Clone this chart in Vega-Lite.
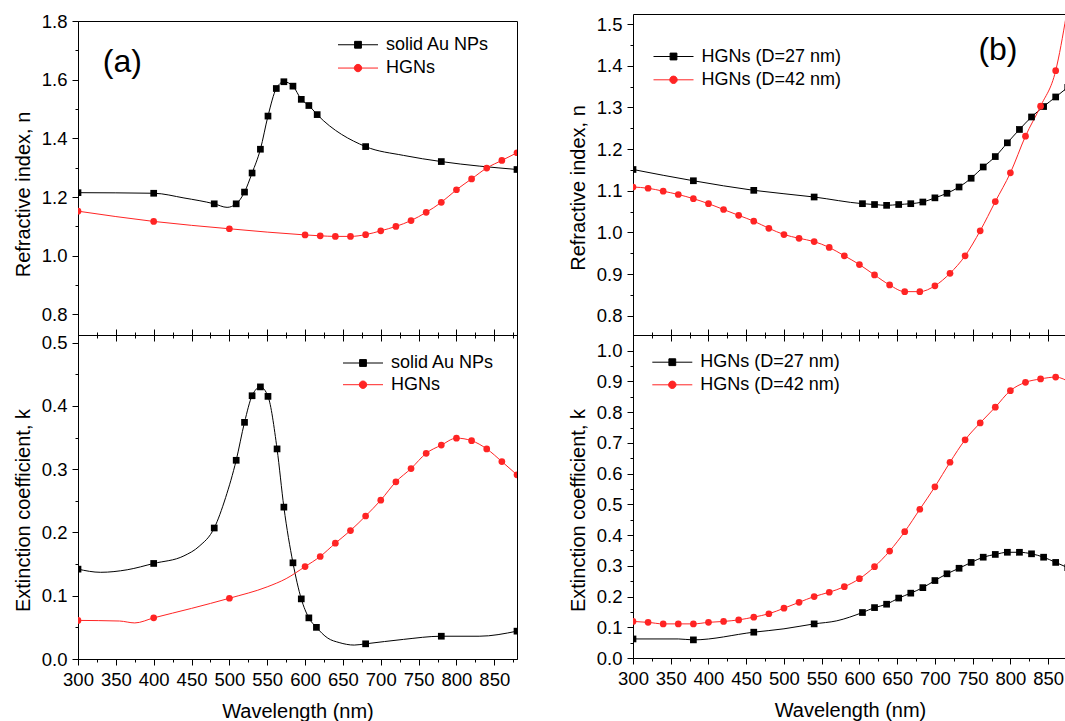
{
  "$schema": "https://vega.github.io/schema/vega-lite/v6.json",
  "padding": {"left": 12, "top": 0, "right": 0, "bottom": 0},
  "background": "white",
  "config": {
    "font": "Liberation Sans",
    "view": {"stroke": "#000", "strokeWidth": 1},
    "axis": {
      "labelFont": "Liberation Sans", "labelFontSize": 18.5, "labelColor": "#000",
      "titleFont": "Liberation Sans", "titleFontSize": 20, "titleFontWeight": "normal", "titleColor": "#000",
      "domainColor": "#000", "tickColor": "#000", "domainWidth": 1, "tickWidth": 1,
      "grid": false, "labelPadding": 5, "labelFlush": false, "labelOverlap": false, "labelBound": false
    },
    "legend": {
      "labelFont": "Liberation Sans", "labelFontSize": 18, "labelColor": "#000",
      "symbolSize": 100, "labelOffset": 19, "symbolStrokeWidth": 1, "orient": "none", "padding": 0
    }
  },
  "datasets": {
    "an": [
      {"wl": 300, "v": 1.215, "s": "solid Au NPs", "m": 1},
      {"wl": 400, "v": 1.213, "s": "solid Au NPs", "m": 1},
      {"wl": 440, "v": 1.197, "s": "solid Au NPs", "m": 0},
      {"wl": 480, "v": 1.177, "s": "solid Au NPs", "m": 1},
      {"wl": 497, "v": 1.165, "s": "solid Au NPs", "m": 0},
      {"wl": 509, "v": 1.177, "s": "solid Au NPs", "m": 1},
      {"wl": 520, "v": 1.217, "s": "solid Au NPs", "m": 1},
      {"wl": 530, "v": 1.282, "s": "solid Au NPs", "m": 1},
      {"wl": 541, "v": 1.363, "s": "solid Au NPs", "m": 1},
      {"wl": 551, "v": 1.476, "s": "solid Au NPs", "m": 1},
      {"wl": 562, "v": 1.570, "s": "solid Au NPs", "m": 1},
      {"wl": 572, "v": 1.593, "s": "solid Au NPs", "m": 1},
      {"wl": 584, "v": 1.578, "s": "solid Au NPs", "m": 1},
      {"wl": 595, "v": 1.533, "s": "solid Au NPs", "m": 1},
      {"wl": 605, "v": 1.512, "s": "solid Au NPs", "m": 1},
      {"wl": 616, "v": 1.481, "s": "solid Au NPs", "m": 1},
      {"wl": 680, "v": 1.372, "s": "solid Au NPs", "m": 1},
      {"wl": 730, "v": 1.342, "s": "solid Au NPs", "m": 0},
      {"wl": 780, "v": 1.321, "s": "solid Au NPs", "m": 1},
      {"wl": 880, "v": 1.294, "s": "solid Au NPs", "m": 1},
      {"wl": 300, "v": 1.152, "s": "HGNs", "m": 1},
      {"wl": 400, "v": 1.117, "s": "HGNs", "m": 1},
      {"wl": 500, "v": 1.092, "s": "HGNs", "m": 1},
      {"wl": 600, "v": 1.071, "s": "HGNs", "m": 1},
      {"wl": 620, "v": 1.068, "s": "HGNs", "m": 1},
      {"wl": 640, "v": 1.066, "s": "HGNs", "m": 1},
      {"wl": 660, "v": 1.066, "s": "HGNs", "m": 1},
      {"wl": 680, "v": 1.072, "s": "HGNs", "m": 1},
      {"wl": 700, "v": 1.085, "s": "HGNs", "m": 1},
      {"wl": 720, "v": 1.100, "s": "HGNs", "m": 1},
      {"wl": 740, "v": 1.120, "s": "HGNs", "m": 1},
      {"wl": 760, "v": 1.148, "s": "HGNs", "m": 1},
      {"wl": 780, "v": 1.182, "s": "HGNs", "m": 1},
      {"wl": 800, "v": 1.225, "s": "HGNs", "m": 1},
      {"wl": 820, "v": 1.262, "s": "HGNs", "m": 1},
      {"wl": 840, "v": 1.299, "s": "HGNs", "m": 1},
      {"wl": 860, "v": 1.325, "s": "HGNs", "m": 1},
      {"wl": 880, "v": 1.351, "s": "HGNs", "m": 1}
    ],
    "ak": [
      {"wl": 300, "v": 0.142, "s": "solid Au NPs", "m": 1},
      {"wl": 330, "v": 0.137, "s": "solid Au NPs", "m": 0},
      {"wl": 365, "v": 0.141, "s": "solid Au NPs", "m": 0},
      {"wl": 400, "v": 0.151, "s": "solid Au NPs", "m": 1},
      {"wl": 440, "v": 0.163, "s": "solid Au NPs", "m": 0},
      {"wl": 460, "v": 0.178, "s": "solid Au NPs", "m": 0},
      {"wl": 480, "v": 0.207, "s": "solid Au NPs", "m": 1},
      {"wl": 495, "v": 0.255, "s": "solid Au NPs", "m": 0},
      {"wl": 509, "v": 0.314, "s": "solid Au NPs", "m": 1},
      {"wl": 520, "v": 0.374, "s": "solid Au NPs", "m": 1},
      {"wl": 530, "v": 0.416, "s": "solid Au NPs", "m": 1},
      {"wl": 541, "v": 0.430, "s": "solid Au NPs", "m": 1},
      {"wl": 551, "v": 0.415, "s": "solid Au NPs", "m": 1},
      {"wl": 563, "v": 0.332, "s": "solid Au NPs", "m": 1},
      {"wl": 572, "v": 0.240, "s": "solid Au NPs", "m": 1},
      {"wl": 584, "v": 0.152, "s": "solid Au NPs", "m": 1},
      {"wl": 595, "v": 0.095, "s": "solid Au NPs", "m": 1},
      {"wl": 605, "v": 0.065, "s": "solid Au NPs", "m": 1},
      {"wl": 615, "v": 0.050, "s": "solid Au NPs", "m": 1},
      {"wl": 630, "v": 0.033, "s": "solid Au NPs", "m": 0},
      {"wl": 645, "v": 0.026, "s": "solid Au NPs", "m": 0},
      {"wl": 665, "v": 0.022, "s": "solid Au NPs", "m": 0},
      {"wl": 680, "v": 0.024, "s": "solid Au NPs", "m": 1},
      {"wl": 730, "v": 0.031, "s": "solid Au NPs", "m": 0},
      {"wl": 780, "v": 0.036, "s": "solid Au NPs", "m": 1},
      {"wl": 830, "v": 0.036, "s": "solid Au NPs", "m": 0},
      {"wl": 880, "v": 0.044, "s": "solid Au NPs", "m": 1},
      {"wl": 300, "v": 0.061, "s": "HGNs", "m": 1},
      {"wl": 355, "v": 0.060, "s": "HGNs", "m": 0},
      {"wl": 375, "v": 0.057, "s": "HGNs", "m": 0},
      {"wl": 400, "v": 0.065, "s": "HGNs", "m": 1},
      {"wl": 450, "v": 0.080, "s": "HGNs", "m": 0},
      {"wl": 500, "v": 0.096, "s": "HGNs", "m": 1},
      {"wl": 550, "v": 0.114, "s": "HGNs", "m": 0},
      {"wl": 575, "v": 0.127, "s": "HGNs", "m": 0},
      {"wl": 600, "v": 0.146, "s": "HGNs", "m": 1},
      {"wl": 620, "v": 0.162, "s": "HGNs", "m": 1},
      {"wl": 640, "v": 0.183, "s": "HGNs", "m": 1},
      {"wl": 660, "v": 0.203, "s": "HGNs", "m": 1},
      {"wl": 680, "v": 0.226, "s": "HGNs", "m": 1},
      {"wl": 700, "v": 0.251, "s": "HGNs", "m": 1},
      {"wl": 720, "v": 0.280, "s": "HGNs", "m": 1},
      {"wl": 740, "v": 0.301, "s": "HGNs", "m": 1},
      {"wl": 760, "v": 0.325, "s": "HGNs", "m": 1},
      {"wl": 780, "v": 0.338, "s": "HGNs", "m": 1},
      {"wl": 800, "v": 0.349, "s": "HGNs", "m": 1},
      {"wl": 820, "v": 0.345, "s": "HGNs", "m": 1},
      {"wl": 840, "v": 0.332, "s": "HGNs", "m": 1},
      {"wl": 860, "v": 0.312, "s": "HGNs", "m": 1},
      {"wl": 880, "v": 0.291, "s": "HGNs", "m": 1}
    ],
    "bn": [
      {"wl": 300, "v": 1.151, "s": "HGNs (D=27 nm)", "m": 1},
      {"wl": 380, "v": 1.124, "s": "HGNs (D=27 nm)", "m": 1},
      {"wl": 460, "v": 1.101, "s": "HGNs (D=27 nm)", "m": 1},
      {"wl": 540, "v": 1.085, "s": "HGNs (D=27 nm)", "m": 1},
      {"wl": 604, "v": 1.069, "s": "HGNs (D=27 nm)", "m": 1},
      {"wl": 620, "v": 1.067, "s": "HGNs (D=27 nm)", "m": 1},
      {"wl": 636, "v": 1.065, "s": "HGNs (D=27 nm)", "m": 1},
      {"wl": 652, "v": 1.067, "s": "HGNs (D=27 nm)", "m": 1},
      {"wl": 668, "v": 1.069, "s": "HGNs (D=27 nm)", "m": 1},
      {"wl": 684, "v": 1.073, "s": "HGNs (D=27 nm)", "m": 1},
      {"wl": 700, "v": 1.083, "s": "HGNs (D=27 nm)", "m": 1},
      {"wl": 716, "v": 1.094, "s": "HGNs (D=27 nm)", "m": 1},
      {"wl": 732, "v": 1.109, "s": "HGNs (D=27 nm)", "m": 1},
      {"wl": 748, "v": 1.130, "s": "HGNs (D=27 nm)", "m": 1},
      {"wl": 764, "v": 1.157, "s": "HGNs (D=27 nm)", "m": 1},
      {"wl": 780, "v": 1.182, "s": "HGNs (D=27 nm)", "m": 1},
      {"wl": 796, "v": 1.215, "s": "HGNs (D=27 nm)", "m": 1},
      {"wl": 812, "v": 1.247, "s": "HGNs (D=27 nm)", "m": 1},
      {"wl": 828, "v": 1.277, "s": "HGNs (D=27 nm)", "m": 1},
      {"wl": 844, "v": 1.302, "s": "HGNs (D=27 nm)", "m": 1},
      {"wl": 860, "v": 1.325, "s": "HGNs (D=27 nm)", "m": 1},
      {"wl": 876, "v": 1.348, "s": "HGNs (D=27 nm)", "m": 1},
      {"wl": 300, "v": 1.109, "s": "HGNs (D=42 nm)", "m": 1},
      {"wl": 320, "v": 1.106, "s": "HGNs (D=42 nm)", "m": 1},
      {"wl": 340, "v": 1.099, "s": "HGNs (D=42 nm)", "m": 1},
      {"wl": 360, "v": 1.091, "s": "HGNs (D=42 nm)", "m": 1},
      {"wl": 380, "v": 1.081, "s": "HGNs (D=42 nm)", "m": 1},
      {"wl": 400, "v": 1.069, "s": "HGNs (D=42 nm)", "m": 1},
      {"wl": 420, "v": 1.055, "s": "HGNs (D=42 nm)", "m": 1},
      {"wl": 440, "v": 1.041, "s": "HGNs (D=42 nm)", "m": 1},
      {"wl": 460, "v": 1.027, "s": "HGNs (D=42 nm)", "m": 1},
      {"wl": 480, "v": 1.010, "s": "HGNs (D=42 nm)", "m": 1},
      {"wl": 500, "v": 0.995, "s": "HGNs (D=42 nm)", "m": 1},
      {"wl": 520, "v": 0.986, "s": "HGNs (D=42 nm)", "m": 1},
      {"wl": 540, "v": 0.978, "s": "HGNs (D=42 nm)", "m": 1},
      {"wl": 560, "v": 0.964, "s": "HGNs (D=42 nm)", "m": 1},
      {"wl": 580, "v": 0.944, "s": "HGNs (D=42 nm)", "m": 1},
      {"wl": 600, "v": 0.923, "s": "HGNs (D=42 nm)", "m": 1},
      {"wl": 620, "v": 0.898, "s": "HGNs (D=42 nm)", "m": 1},
      {"wl": 640, "v": 0.874, "s": "HGNs (D=42 nm)", "m": 1},
      {"wl": 660, "v": 0.858, "s": "HGNs (D=42 nm)", "m": 1},
      {"wl": 680, "v": 0.858, "s": "HGNs (D=42 nm)", "m": 1},
      {"wl": 700, "v": 0.872, "s": "HGNs (D=42 nm)", "m": 1},
      {"wl": 720, "v": 0.902, "s": "HGNs (D=42 nm)", "m": 1},
      {"wl": 740, "v": 0.944, "s": "HGNs (D=42 nm)", "m": 1},
      {"wl": 760, "v": 1.004, "s": "HGNs (D=42 nm)", "m": 1},
      {"wl": 780, "v": 1.074, "s": "HGNs (D=42 nm)", "m": 1},
      {"wl": 800, "v": 1.143, "s": "HGNs (D=42 nm)", "m": 1},
      {"wl": 820, "v": 1.231, "s": "HGNs (D=42 nm)", "m": 1},
      {"wl": 840, "v": 1.303, "s": "HGNs (D=42 nm)", "m": 1},
      {"wl": 860, "v": 1.388, "s": "HGNs (D=42 nm)", "m": 1},
      {"wl": 874, "v": 1.520, "s": "HGNs (D=42 nm)", "m": 0}
    ],
    "bk": [
      {"wl": 300, "v": 0.062, "s": "HGNs (D=27 nm)", "m": 1},
      {"wl": 360, "v": 0.062, "s": "HGNs (D=27 nm)", "m": 0},
      {"wl": 380, "v": 0.059, "s": "HGNs (D=27 nm)", "m": 1},
      {"wl": 460, "v": 0.084, "s": "HGNs (D=27 nm)", "m": 1},
      {"wl": 500, "v": 0.095, "s": "HGNs (D=27 nm)", "m": 0},
      {"wl": 540, "v": 0.111, "s": "HGNs (D=27 nm)", "m": 1},
      {"wl": 570, "v": 0.121, "s": "HGNs (D=27 nm)", "m": 0},
      {"wl": 604, "v": 0.148, "s": "HGNs (D=27 nm)", "m": 1},
      {"wl": 620, "v": 0.164, "s": "HGNs (D=27 nm)", "m": 1},
      {"wl": 636, "v": 0.175, "s": "HGNs (D=27 nm)", "m": 1},
      {"wl": 652, "v": 0.195, "s": "HGNs (D=27 nm)", "m": 1},
      {"wl": 668, "v": 0.211, "s": "HGNs (D=27 nm)", "m": 1},
      {"wl": 684, "v": 0.229, "s": "HGNs (D=27 nm)", "m": 1},
      {"wl": 700, "v": 0.252, "s": "HGNs (D=27 nm)", "m": 1},
      {"wl": 716, "v": 0.274, "s": "HGNs (D=27 nm)", "m": 1},
      {"wl": 732, "v": 0.292, "s": "HGNs (D=27 nm)", "m": 1},
      {"wl": 748, "v": 0.311, "s": "HGNs (D=27 nm)", "m": 1},
      {"wl": 764, "v": 0.328, "s": "HGNs (D=27 nm)", "m": 1},
      {"wl": 780, "v": 0.337, "s": "HGNs (D=27 nm)", "m": 1},
      {"wl": 796, "v": 0.344, "s": "HGNs (D=27 nm)", "m": 1},
      {"wl": 812, "v": 0.344, "s": "HGNs (D=27 nm)", "m": 1},
      {"wl": 828, "v": 0.339, "s": "HGNs (D=27 nm)", "m": 1},
      {"wl": 844, "v": 0.328, "s": "HGNs (D=27 nm)", "m": 1},
      {"wl": 860, "v": 0.311, "s": "HGNs (D=27 nm)", "m": 1},
      {"wl": 876, "v": 0.294, "s": "HGNs (D=27 nm)", "m": 1},
      {"wl": 300, "v": 0.119, "s": "HGNs (D=42 nm)", "m": 1},
      {"wl": 320, "v": 0.116, "s": "HGNs (D=42 nm)", "m": 1},
      {"wl": 340, "v": 0.111, "s": "HGNs (D=42 nm)", "m": 1},
      {"wl": 360, "v": 0.111, "s": "HGNs (D=42 nm)", "m": 1},
      {"wl": 380, "v": 0.111, "s": "HGNs (D=42 nm)", "m": 1},
      {"wl": 400, "v": 0.116, "s": "HGNs (D=42 nm)", "m": 1},
      {"wl": 420, "v": 0.119, "s": "HGNs (D=42 nm)", "m": 1},
      {"wl": 440, "v": 0.124, "s": "HGNs (D=42 nm)", "m": 1},
      {"wl": 460, "v": 0.133, "s": "HGNs (D=42 nm)", "m": 1},
      {"wl": 480, "v": 0.144, "s": "HGNs (D=42 nm)", "m": 1},
      {"wl": 500, "v": 0.162, "s": "HGNs (D=42 nm)", "m": 1},
      {"wl": 520, "v": 0.181, "s": "HGNs (D=42 nm)", "m": 1},
      {"wl": 540, "v": 0.200, "s": "HGNs (D=42 nm)", "m": 1},
      {"wl": 560, "v": 0.214, "s": "HGNs (D=42 nm)", "m": 1},
      {"wl": 580, "v": 0.232, "s": "HGNs (D=42 nm)", "m": 1},
      {"wl": 600, "v": 0.258, "s": "HGNs (D=42 nm)", "m": 1},
      {"wl": 620, "v": 0.297, "s": "HGNs (D=42 nm)", "m": 1},
      {"wl": 640, "v": 0.348, "s": "HGNs (D=42 nm)", "m": 1},
      {"wl": 660, "v": 0.411, "s": "HGNs (D=42 nm)", "m": 1},
      {"wl": 680, "v": 0.484, "s": "HGNs (D=42 nm)", "m": 1},
      {"wl": 700, "v": 0.557, "s": "HGNs (D=42 nm)", "m": 1},
      {"wl": 720, "v": 0.637, "s": "HGNs (D=42 nm)", "m": 1},
      {"wl": 740, "v": 0.710, "s": "HGNs (D=42 nm)", "m": 1},
      {"wl": 760, "v": 0.765, "s": "HGNs (D=42 nm)", "m": 1},
      {"wl": 780, "v": 0.816, "s": "HGNs (D=42 nm)", "m": 1},
      {"wl": 800, "v": 0.870, "s": "HGNs (D=42 nm)", "m": 1},
      {"wl": 820, "v": 0.897, "s": "HGNs (D=42 nm)", "m": 1},
      {"wl": 840, "v": 0.908, "s": "HGNs (D=42 nm)", "m": 1},
      {"wl": 860, "v": 0.914, "s": "HGNs (D=42 nm)", "m": 1},
      {"wl": 880, "v": 0.895, "s": "HGNs (D=42 nm)", "m": 1}
    ]
  },
  "spacing": 50,
  "resolve": {"scale": {"x": "independent", "y": "independent", "color": "independent", "shape": "independent", "fill": "independent", "stroke": "independent"}},
  "hconcat": [
    {
      "spacing": 0,
      "bounds": "flush",
      "resolve": {"scale": {"x": "independent", "y": "independent", "color": "independent", "shape": "independent", "fill": "independent", "stroke": "independent"}},
      "vconcat": [
        {
          "width": 439, "height": 21,
          "view": {"stroke": null, "fill": "#ffffff"},
          "data": {"values": [{}]},
          "mark": {"type": "point", "opacity": 0, "size": 1}
        },
        {
          "width": 439, "height": 314,
          "data": {"name": "an"},
          "resolve": {"axis": {"x": "independent", "y": "independent"}, "scale": {"shape": "independent"}, "legend": {"fill": "independent", "stroke": "independent", "shape": "independent"}},
          "layer": [
            {
              "mark": {"type": "line", "interpolate": "monotone", "strokeWidth": 1, "clip": true},
              "encoding": {
                "x": {"field": "wl", "type": "quantitative", "scale": {"domain": [300, 880], "nice": false, "zero": false},
                  "axis": {"orient": "bottom", "labels": false, "title": null,
                    "values": [300, 325, 350, 375, 400, 425, 450, 475, 500, 525, 550, 575, 600, 625, 650, 675, 700, 725, 750, 775, 800, 825, 850, 875],
                    "tickSize": {"condition": {"test": "datum.value % 50 === 0", "value": -6}, "value": -3}}},
                "y": {"field": "v", "type": "quantitative", "scale": {"domain": [0.73, 1.8], "nice": false, "zero": false},
                  "axis": {"orient": "left", "title": "Refractive index, n", "titleX": -49, "titleY": 173, "titleBaseline": "alphabetic", "titleAlign": "center", "titleAngle": 270,
                    "values": [0.8, 0.9, 1, 1.1, 1.2, 1.3, 1.4, 1.5, 1.6, 1.7, 1.8],
                    "labelExpr": "indexof([0.8, 1, 1.2, 1.4, 1.6, 1.8], datum.value) >= 0 ? format(datum.value, '.1f') : ''",
                    "tickSize": {"condition": {"test": "indexof([0.8, 1, 1.2, 1.4, 1.6, 1.8], datum.value) >= 0", "value": 6}, "value": 3}}},
                "color": {"field": "s", "type": "nominal", "scale": {"domain": ["solid Au NPs", "HGNs"], "range": ["#000000", "#ff2424"]}, "legend": null}
              }
            },
            {
              "transform": [{"filter": "datum.m === 1"}],
              "mark": {"type": "point", "filled": true, "opacity": 1, "size": 45, "clip": true},
              "encoding": {
                "x": {"field": "wl", "type": "quantitative", "axis": null},
                "y": {"field": "v", "type": "quantitative", "axis": null},
                "shape": {"field": "s", "type": "nominal", "scale": {"domain": ["solid Au NPs", "HGNs"], "range": ["square", "circle"]}, "legend": null},
                "color": {"field": "s", "type": "nominal", "scale": {"domain": ["solid Au NPs", "HGNs"], "range": ["#000000", "#ff2424"]}, "legend": null}
              }
            },
            {
              "transform": [{"filter": "false"}],
              "mark": {"type": "point", "filled": true, "opacity": 1, "strokeWidth": 1},
              "encoding": {
                "x": {"field": "wl", "type": "quantitative", "axis": null},
                "y": {"field": "v", "type": "quantitative", "axis": null},
                "fill": {"field": "s", "type": "nominal", "scale": {"domain": ["solid Au NPs", "HGNs"], "range": ["#000000", "#ff2424"]},
                  "legend": {"title": null, "orient": "none", "legendX": 271, "legendY": 14.75, "rowPadding": 5.3}},
                "stroke": {"field": "s", "type": "nominal", "scale": {"domain": ["solid Au NPs", "HGNs"], "range": ["#000000", "#ff2424"]},
                  "legend": {"title": null, "orient": "none", "legendX": 271, "legendY": 14.75, "rowPadding": 5.3}},
                "shape": {"field": "s", "type": "nominal", "scale": {"domain": ["solid Au NPs", "HGNs"], "range": ["M-4,0H4M-0.68,-0.68H0.68V0.68H-0.68Z", "M-4,0H4M0.74,0A0.74,0.74,0,1,1,-0.74,0A0.74,0.74,0,1,1,0.74,0Z"]},
                  "legend": {"title": null, "orient": "none", "legendX": 271, "legendY": 14.75, "rowPadding": 5.3}}
              }
            },
            {
              "data": {"values": [{}]},
              "mark": {"type": "text", "fontSize": 32, "font": "Liberation Sans", "align": "center", "baseline": "alphabetic", "color": "#000"},
              "encoding": {
                "x": {"datum": 358.5, "type": "quantitative", "axis": null},
                "y": {"datum": 1.626, "type": "quantitative", "axis": null},
                "text": {"value": "(a)"}
              }
            }
          ]
        },
        {
          "width": 439, "height": 324,
          "data": {"name": "ak"},
          "resolve": {"axis": {"x": "independent", "y": "independent"}, "scale": {"shape": "independent"}, "legend": {"fill": "independent", "stroke": "independent", "shape": "independent"}},
          "layer": [
            {
              "mark": {"type": "line", "interpolate": "monotone", "strokeWidth": 1, "clip": true},
              "encoding": {
                "x": {"field": "wl", "type": "quantitative", "scale": {"domain": [300, 880], "nice": false, "zero": false},
                  "axis": {"orient": "bottom", "title": "Wavelength (nm)", "titleY": 58, "titleBaseline": "alphabetic",
                    "values": [300, 325, 350, 375, 400, 425, 450, 475, 500, 525, 550, 575, 600, 625, 650, 675, 700, 725, 750, 775, 800, 825, 850, 875],
                    "labelExpr": "datum.value % 50 === 0 ? format(datum.value, 'd') : ''",
                    "tickSize": {"condition": {"test": "datum.value % 50 === 0", "value": 6}, "value": 3}}},
                "y": {"field": "v", "type": "quantitative", "scale": {"domain": [0, 0.512], "nice": false, "zero": false},
                  "axis": {"orient": "left", "title": "Extinction coefficient, k", "titleX": -49, "titleY": 175, "titleBaseline": "alphabetic", "titleAlign": "center", "titleAngle": 270,
                    "values": [0, 0.05, 0.1, 0.15, 0.2, 0.25, 0.3, 0.35, 0.4, 0.45, 0.5],
                    "labelExpr": "indexof([0, 0.1, 0.2, 0.3, 0.4, 0.5], datum.value) >= 0 ? format(datum.value, '.1f') : ''",
                    "tickSize": {"condition": {"test": "indexof([0, 0.1, 0.2, 0.3, 0.4, 0.5], datum.value) >= 0", "value": 6}, "value": 3}}},
                "color": {"field": "s", "type": "nominal", "scale": {"domain": ["solid Au NPs", "HGNs"], "range": ["#000000", "#ff2424"]}, "legend": null}
              }
            },
            {
              "transform": [{"filter": "datum.m === 1"}],
              "mark": {"type": "point", "filled": true, "opacity": 1, "size": 45, "clip": true},
              "encoding": {
                "x": {"field": "wl", "type": "quantitative",
                  "axis": {"orient": "top", "labels": false, "title": null,
                    "values": [300, 325, 350, 375, 400, 425, 450, 475, 500, 525, 550, 575, 600, 625, 650, 675, 700, 725, 750, 775, 800, 825, 850, 875],
                    "tickSize": {"condition": {"test": "datum.value % 50 === 0", "value": -6}, "value": -3}}},
                "y": {"field": "v", "type": "quantitative", "axis": null},
                "shape": {"field": "s", "type": "nominal", "scale": {"domain": ["solid Au NPs", "HGNs"], "range": ["square", "circle"]}, "legend": null},
                "color": {"field": "s", "type": "nominal", "scale": {"domain": ["solid Au NPs", "HGNs"], "range": ["#000000", "#ff2424"]}, "legend": null}
              }
            },
            {
              "transform": [{"filter": "false"}],
              "mark": {"type": "point", "filled": true, "opacity": 1, "strokeWidth": 1},
              "encoding": {
                "x": {"field": "wl", "type": "quantitative", "axis": null},
                "y": {"field": "v", "type": "quantitative", "axis": null},
                "fill": {"field": "s", "type": "nominal", "scale": {"domain": ["solid Au NPs", "HGNs"], "range": ["#000000", "#ff2424"]},
                  "legend": {"title": null, "orient": "none", "legendX": 276, "legendY": 19, "rowPadding": 3.7}},
                "stroke": {"field": "s", "type": "nominal", "scale": {"domain": ["solid Au NPs", "HGNs"], "range": ["#000000", "#ff2424"]},
                  "legend": {"title": null, "orient": "none", "legendX": 276, "legendY": 19, "rowPadding": 3.7}},
                "shape": {"field": "s", "type": "nominal", "scale": {"domain": ["solid Au NPs", "HGNs"], "range": ["M-4,0H4M-0.68,-0.68H0.68V0.68H-0.68Z", "M-4,0H4M0.74,0A0.74,0.74,0,1,1,-0.74,0A0.74,0.74,0,1,1,0.74,0Z"]},
                  "legend": {"title": null, "orient": "none", "legendX": 276, "legendY": 19, "rowPadding": 3.7}}
              }
            }
          ]
        }
      ]
    },
    {
      "spacing": 0,
      "bounds": "flush",
      "resolve": {"scale": {"x": "independent", "y": "independent", "color": "independent", "shape": "independent", "fill": "independent", "stroke": "independent"}},
      "vconcat": [
        {
          "width": 434, "height": 14,
          "view": {"stroke": null, "fill": "#ffffff"},
          "data": {"values": [{}]},
          "mark": {"type": "point", "opacity": 0, "size": 1}
        },
        {
          "width": 434, "height": 321,
          "view": {"stroke": null},
          "data": {"name": "bn"},
          "resolve": {"axis": {"x": "independent", "y": "independent"}, "scale": {"shape": "independent"}, "legend": {"fill": "independent", "stroke": "independent", "shape": "independent"}},
          "layer": [
            {
              "mark": {"type": "line", "interpolate": "monotone", "strokeWidth": 1, "clip": true},
              "encoding": {
                "x": {"field": "wl", "type": "quantitative", "scale": {"domain": [300, 875], "nice": false, "zero": false},
                  "axis": {"orient": "bottom", "labels": false, "title": null,
                    "values": [300, 325, 350, 375, 400, 425, 450, 475, 500, 525, 550, 575, 600, 625, 650, 675, 700, 725, 750, 775, 800, 825, 850],
                    "tickSize": {"condition": {"test": "datum.value % 50 === 0", "value": -6}, "value": -3}}},
                "y": {"field": "v", "type": "quantitative", "scale": {"domain": [0.754, 1.524], "nice": false, "zero": false},
                  "axis": {"orient": "left", "title": "Refractive index, n", "titleX": -49, "titleY": 173.5, "titleBaseline": "alphabetic", "titleAlign": "center", "titleAngle": 270,
                    "values": [0.8, 0.85, 0.9, 0.95, 1, 1.05, 1.1, 1.15, 1.2, 1.25, 1.3, 1.35, 1.4, 1.45, 1.5],
                    "labelExpr": "indexof([0.8, 0.9, 1, 1.1, 1.2, 1.3, 1.4, 1.5], datum.value) >= 0 ? format(datum.value, '.1f') : ''",
                    "tickSize": {"condition": {"test": "indexof([0.8, 0.9, 1, 1.1, 1.2, 1.3, 1.4, 1.5], datum.value) >= 0", "value": 6}, "value": 3}}},
                "color": {"field": "s", "type": "nominal", "scale": {"domain": ["HGNs (D=27 nm)", "HGNs (D=42 nm)"], "range": ["#000000", "#ff2424"]}, "legend": null}
              }
            },
            {
              "transform": [{"filter": "datum.m === 1"}],
              "mark": {"type": "point", "filled": true, "opacity": 1, "size": 45, "clip": true},
              "encoding": {
                "x": {"field": "wl", "type": "quantitative",
                  "axis": {"orient": "top", "labels": false, "ticks": false, "title": null}},
                "y": {"field": "v", "type": "quantitative", "axis": null},
                "shape": {"field": "s", "type": "nominal", "scale": {"domain": ["HGNs (D=27 nm)", "HGNs (D=42 nm)"], "range": ["square", "circle"]}, "legend": null},
                "color": {"field": "s", "type": "nominal", "scale": {"domain": ["HGNs (D=27 nm)", "HGNs (D=42 nm)"], "range": ["#000000", "#ff2424"]}, "legend": null}
              }
            },
            {
              "transform": [{"filter": "false"}],
              "mark": {"type": "point", "filled": true, "opacity": 1, "strokeWidth": 1},
              "encoding": {
                "x": {"field": "wl", "type": "quantitative", "axis": null},
                "y": {"field": "v", "type": "quantitative", "axis": null},
                "fill": {"field": "s", "type": "nominal", "scale": {"domain": ["HGNs (D=27 nm)", "HGNs (D=42 nm)"], "range": ["#000000", "#ff2424"]},
                  "legend": {"title": null, "orient": "none", "legendX": 31.5, "legendY": 33.5, "rowPadding": 5.3}},
                "stroke": {"field": "s", "type": "nominal", "scale": {"domain": ["HGNs (D=27 nm)", "HGNs (D=42 nm)"], "range": ["#000000", "#ff2424"]},
                  "legend": {"title": null, "orient": "none", "legendX": 31.5, "legendY": 33.5, "rowPadding": 5.3}},
                "shape": {"field": "s", "type": "nominal", "scale": {"domain": ["HGNs (D=27 nm)", "HGNs (D=42 nm)"], "range": ["M-4,0H4M-0.68,-0.68H0.68V0.68H-0.68Z", "M-4,0H4M0.74,0A0.74,0.74,0,1,1,-0.74,0A0.74,0.74,0,1,1,0.74,0Z"]},
                  "legend": {"title": null, "orient": "none", "legendX": 31.5, "legendY": 33.5, "rowPadding": 5.3}}
              }
            },
            {
              "data": {"values": [{}]},
              "mark": {"type": "text", "fontSize": 32, "font": "Liberation Sans", "align": "center", "baseline": "alphabetic", "color": "#000"},
              "encoding": {
                "x": {"datum": 783.5, "type": "quantitative", "axis": null},
                "y": {"datum": 1.413, "type": "quantitative", "axis": null},
                "text": {"value": "(b)"}
              }
            }
          ]
        },
        {
          "width": 434, "height": 323,
          "view": {"stroke": null},
          "data": {"name": "bk"},
          "resolve": {"axis": {"x": "independent", "y": "independent"}, "scale": {"shape": "independent"}, "legend": {"fill": "independent", "stroke": "independent", "shape": "independent"}},
          "layer": [
            {
              "mark": {"type": "line", "interpolate": "monotone", "strokeWidth": 1, "clip": true},
              "encoding": {
                "x": {"field": "wl", "type": "quantitative", "scale": {"domain": [300, 875], "nice": false, "zero": false},
                  "axis": {"orient": "bottom", "title": "Wavelength (nm)", "titleY": 58, "titleBaseline": "alphabetic",
                    "values": [300, 325, 350, 375, 400, 425, 450, 475, 500, 525, 550, 575, 600, 625, 650, 675, 700, 725, 750, 775, 800, 825, 850],
                    "labelExpr": "datum.value % 50 === 0 ? format(datum.value, 'd') : ''",
                    "tickSize": {"condition": {"test": "datum.value % 50 === 0", "value": 6}, "value": 3}}},
                "y": {"field": "v", "type": "quantitative", "scale": {"domain": [0, 1.051], "nice": false, "zero": false},
                  "axis": {"orient": "left", "title": "Extinction coefficient, k", "titleX": -49, "titleY": 175, "titleBaseline": "alphabetic", "titleAlign": "center", "titleAngle": 270,
                    "values": [0, 0.05, 0.1, 0.15, 0.2, 0.25, 0.3, 0.35, 0.4, 0.45, 0.5, 0.55, 0.6, 0.65, 0.7, 0.75, 0.8, 0.85, 0.9, 0.95, 1],
                    "labelExpr": "indexof([0, 0.1, 0.2, 0.3, 0.4, 0.5, 0.6, 0.7, 0.8, 0.9, 1], datum.value) >= 0 ? format(datum.value, '.1f') : ''",
                    "tickSize": {"condition": {"test": "indexof([0, 0.1, 0.2, 0.3, 0.4, 0.5, 0.6, 0.7, 0.8, 0.9, 1], datum.value) >= 0", "value": 6}, "value": 3}}},
                "color": {"field": "s", "type": "nominal", "scale": {"domain": ["HGNs (D=27 nm)", "HGNs (D=42 nm)"], "range": ["#000000", "#ff2424"]}, "legend": null}
              }
            },
            {
              "transform": [{"filter": "datum.m === 1"}],
              "mark": {"type": "point", "filled": true, "opacity": 1, "size": 45, "clip": true},
              "encoding": {
                "x": {"field": "wl", "type": "quantitative",
                  "axis": {"orient": "top", "labels": false, "title": null,
                    "values": [300, 325, 350, 375, 400, 425, 450, 475, 500, 525, 550, 575, 600, 625, 650, 675, 700, 725, 750, 775, 800, 825, 850],
                    "tickSize": {"condition": {"test": "datum.value % 50 === 0", "value": -6}, "value": -3}}},
                "y": {"field": "v", "type": "quantitative", "axis": null},
                "shape": {"field": "s", "type": "nominal", "scale": {"domain": ["HGNs (D=27 nm)", "HGNs (D=42 nm)"], "range": ["square", "circle"]}, "legend": null},
                "color": {"field": "s", "type": "nominal", "scale": {"domain": ["HGNs (D=27 nm)", "HGNs (D=42 nm)"], "range": ["#000000", "#ff2424"]}, "legend": null}
              }
            },
            {
              "transform": [{"filter": "false"}],
              "mark": {"type": "point", "filled": true, "opacity": 1, "strokeWidth": 1},
              "encoding": {
                "x": {"field": "wl", "type": "quantitative", "axis": null},
                "y": {"field": "v", "type": "quantitative", "axis": null},
                "fill": {"field": "s", "type": "nominal", "scale": {"domain": ["HGNs (D=27 nm)", "HGNs (D=42 nm)"], "range": ["#000000", "#ff2424"]},
                  "legend": {"title": null, "orient": "none", "legendX": 30.3, "legendY": 18.2, "rowPadding": 4.6}},
                "stroke": {"field": "s", "type": "nominal", "scale": {"domain": ["HGNs (D=27 nm)", "HGNs (D=42 nm)"], "range": ["#000000", "#ff2424"]},
                  "legend": {"title": null, "orient": "none", "legendX": 30.3, "legendY": 18.2, "rowPadding": 4.6}},
                "shape": {"field": "s", "type": "nominal", "scale": {"domain": ["HGNs (D=27 nm)", "HGNs (D=42 nm)"], "range": ["M-4,0H4M-0.68,-0.68H0.68V0.68H-0.68Z", "M-4,0H4M0.74,0A0.74,0.74,0,1,1,-0.74,0A0.74,0.74,0,1,1,0.74,0Z"]},
                  "legend": {"title": null, "orient": "none", "legendX": 30.3, "legendY": 18.2, "rowPadding": 4.6}}
              }
            }
          ]
        }
      ]
    }
  ]
}
